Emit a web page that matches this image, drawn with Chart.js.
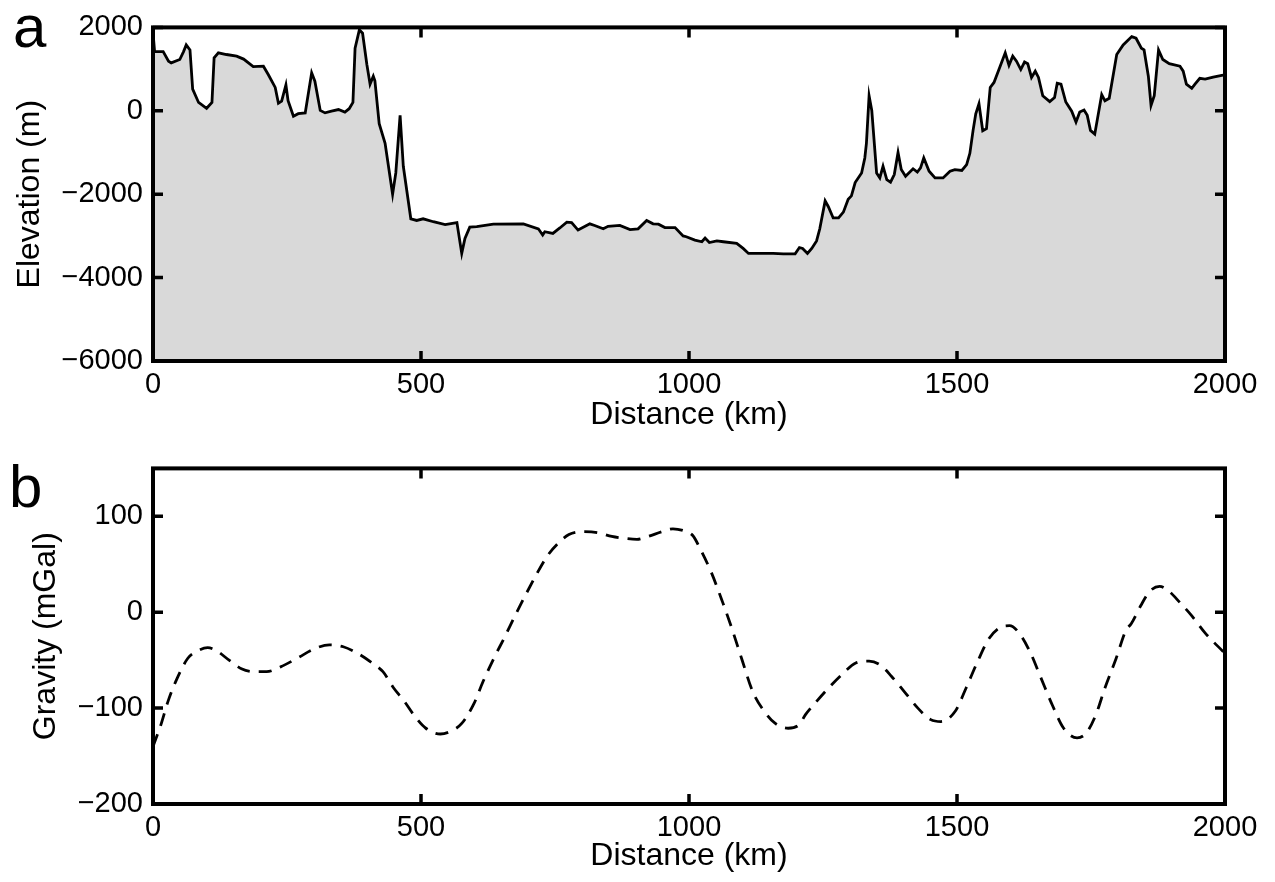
<!DOCTYPE html>
<html lang="en">
<head>
    <meta charset="UTF-8">
    <title>Elevation and gravity profile</title>
    <script src="https://cdn.jsdelivr.net/npm/chart.js"></script>
    <style>
        body { margin: 0; background: #fff; }
        #wrap { position: relative; width: 1275px; height: 882px; }
        canvas { position: absolute; left: 0; }
        .panel { position: absolute; font-family: "Liberation Sans", Arial, Helvetica, sans-serif; font-size: 60px; line-height: 1; color: #000; }
    </style>
</head>
<body>
<div id="wrap">
    <canvas id="elevChart" width="1275" height="441" style="top:0"></canvas>
    <canvas id="gravChart" width="1275" height="441" style="top:441px"></canvas>
    <div class="panel" style="left:13px; top:-3px">a</div>
    <div class="panel" style="left:9px; top:457px">b</div>
</div>

<script>
// profile a: topography along the line (km, m)
const elevDist = [0, 3, 19, 29, 34, 50, 57, 62, 69, 74, 85, 100, 110, 114, 122, 137, 156, 169, 187, 206,
    215, 228, 234, 240, 248, 252, 262, 271, 284, 296, 302, 312, 321, 333, 346, 358, 366, 373, 377, 385,
    391, 399, 405, 411, 414, 422, 433, 447, 453, 461, 467, 481, 492, 504, 523, 545, 567, 576, 582, 591,
    604, 635, 691, 719, 727, 731, 746, 759, 772, 781, 793, 815, 824, 840, 849, 871, 890, 905, 921, 933,
    943, 955, 974, 989, 995, 1011, 1024, 1030, 1038, 1052, 1064, 1089, 1101, 1111, 1126, 1157, 1176, 1198, 1206, 1212,
    1221, 1229, 1238, 1244, 1254, 1260, 1269, 1279, 1288, 1297, 1303, 1310, 1322, 1328, 1331, 1336, 1341, 1350, 1356, 1362,
    1369, 1376, 1383, 1390, 1396, 1404, 1418, 1426, 1432, 1438, 1448, 1459, 1474, 1487, 1496, 1509, 1518, 1524, 1530, 1535,
    1541, 1548, 1555, 1562, 1569, 1577, 1590, 1597, 1604, 1611, 1619, 1626, 1632, 1639, 1646, 1652, 1660, 1673, 1682, 1687,
    1694, 1703, 1714, 1722, 1729, 1737, 1743, 1749, 1757, 1770, 1776, 1784, 1798, 1810, 1826, 1834, 1844, 1849, 1857, 1862,
    1868, 1876, 1884, 1896, 1916, 1922, 1928, 1938, 1944, 1953, 1963, 1978, 1994, 2000];
const elevation = [1880, 1420, 1420, 1190, 1150, 1230, 1420, 1580, 1460, 520, 200, 60, 200, 1270, 1390, 1350, 1310, 1240, 1060, 1070,
    870, 560, 180, 230, 620, 240, -130, -70, -50, 910, 710, 10, -50, -10, 30, -30, 50, 200, 1500, 1940,
    1860, 1110, 640, 830, 720, -310, -780, -2000, -1490, -110, -1330, -2590, -2630, -2590, -2660, -2730, -2680, -3420, -3060, -2790,
    -2780, -2720, -2710, -2830, -2980, -2900, -2940, -2810, -2670, -2680, -2860, -2710, -2750, -2830, -2770, -2750, -2850, -2830, -2630, -2710,
    -2720, -2800, -2800, -3000, -3020, -3100, -3140, -3050, -3160, -3120, -3140, -3180, -3300, -3420, -3420, -3420, -3430, -3430, -3280, -3300,
    -3420, -3300, -3120, -2830, -2160, -2300, -2570, -2570, -2430, -2120, -2040, -1720, -1490, -1130, -780, 360, 10, -1490, -1610, -1330,
    -1650, -1710, -1530, -1000, -1410, -1570, -1390, -1470, -1370, -1130, -1450, -1610, -1610, -1450, -1410, -1430, -1290, -1020, -470, -70,
    170, -480, -430, 560, 680, 950, 1390, 1090, 1310, 1190, 990, 1170, 1130, 800, 950, 800, 360, 220, 320, 660,
    640, 210, -10, -270, -30, 20, -110, -470, -560, 390, 240, 300, 1350, 1580, 1780, 1740, 1500, 1460, 830, 130,
    360, 1460, 1230, 1130, 1070, 950, 640, 540, 640, 780, 760, 810, 850, 860];

// profile b: gravity anomaly (km, mGal)
const gravDist = [0, 15, 28, 45, 65, 81, 102, 118, 142, 165, 188, 212, 238, 269, 302, 329, 355, 382, 409, 429,
    449, 469, 489, 509, 536, 556, 576, 599, 616, 636, 656, 676, 696, 716, 736, 756, 776, 803, 830, 856,
    880, 903, 923, 950, 970, 990, 1007, 1021, 1042, 1063, 1080, 1098, 1119, 1140, 1161, 1185, 1206, 1217, 1238, 1262,
    1287, 1311, 1336, 1357, 1378, 1402, 1427, 1451, 1470, 1497, 1517, 1538, 1559, 1580, 1598, 1615, 1636, 1657, 1678, 1699,
    1724, 1741, 1759, 1776, 1797, 1815, 1825, 1843, 1860, 1878, 1895, 1916, 1937, 1962, 2000];
const gravity = [-140, -117, -93, -69, -48, -41, -37, -40, -50, -59, -62, -62, -57, -48, -38, -34, -36, -43, -53, -62,
    -79, -93, -109, -121, -127, -124, -116, -95, -72, -48, -26, -3, 19, 40, 59, 72, 81, 84, 83, 79,
    77, 76, 79, 84, 87, 85, 80, 66, 41, 10, -17, -48, -83, -103, -116, -121, -117, -107, -93, -78,
    -64, -53, -51, -55, -67, -83, -100, -112, -114, -103, -79, -52, -28, -16, -14, -21, -41, -69, -97, -121,
    -131, -126, -107, -79, -48, -19, -12, 7, 22, 27, 22, 10, -3, -21, -43];

const distTicks = [0, 500, 1000, 1500, 2000];
const elevTicks = [-6000, -4000, -2000, 0, 2000];
const gravTicks = [-200, -100, 0, 100];

Chart.defaults.font.family = '"Liberation Sans", Arial, Helvetica, sans-serif';
Chart.defaults.font.size = 29;
Chart.defaults.color = '#000';

// matlab style minus sign, no thousands separator
function fmt(v) {
    return v < 0 ? '\u2212' + Math.abs(v) : String(v);
}

// black box round the plot with ticks pointing inwards on all four sides
const boxTicks = {
    id: 'boxTicks',
    afterDatasetsDraw(chart) {
        const {ctx, chartArea: a, scales: {x, y}} = chart;
        ctx.save();
        ctx.strokeStyle = '#000';
        ctx.lineWidth = 3.5;
        ctx.beginPath();
        x.ticks.forEach(t => {
            const px = x.getPixelForValue(t.value);
            ctx.moveTo(px, a.bottom); ctx.lineTo(px, a.bottom - 10);
            ctx.moveTo(px, a.top); ctx.lineTo(px, a.top + 10);
        });
        y.ticks.forEach(t => {
            const py = y.getPixelForValue(t.value);
            ctx.moveTo(a.left, py); ctx.lineTo(a.left + 10, py);
            ctx.moveTo(a.right, py); ctx.lineTo(a.right - 10, py);
        });
        ctx.stroke();
        ctx.lineWidth = 4;
        ctx.lineJoin = 'miter';
        ctx.strokeRect(a.left, a.top, a.width, a.height);
        ctx.restore();
    }
};

function makeOptions(yMin, yMax, yTicks, yTitle, yTitlePad, topPad) {
    return {
        responsive: false,
        animation: false,
        layout: { padding: { left: 0, top: topPad, right: 50, bottom: 0 } },
        plugins: { legend: { display: false }, tooltip: { enabled: false } },
        elements: { point: { radius: 0 } },
        scales: {
            x: {
                type: 'linear',
                min: 0,
                max: 2000,
                afterBuildTicks: axis => { axis.ticks = distTicks.map(v => ({ value: v })); },
                afterFit: axis => { axis.height = 441 - 361 - topPad + 22; },
                grid: { display: false, drawTicks: false },
                border: { display: false },
                ticks: { padding: 7, maxRotation: 0, callback: v => fmt(v) },
                title: { display: true, text: 'Distance (km)', font: { size: 32 }, padding: { top: 0, bottom: 7 } }
            },
            y: {
                min: yMin,
                max: yMax,
                afterBuildTicks: axis => { axis.ticks = yTicks.map(v => ({ value: v })); },
                afterFit: axis => { axis.width = 153; },
                grid: { display: false, drawTicks: false },
                border: { display: false },
                ticks: { padding: 10, callback: v => fmt(v) },
                title: { display: true, text: yTitle, font: { size: 32 }, padding: { top: yTitlePad, bottom: 0 } }
            }
        }
    };
}

new Chart(document.getElementById('elevChart'), {
    type: 'line',
    data: {
        datasets: [{
            data: elevDist.map((d, i) => ({ x: d, y: elevation[i] })),
            borderColor: '#000',
            borderWidth: 2.8,
            backgroundColor: '#d9d9d9',
            fill: 'start',
            tension: 0
        }]
    },
    options: makeOptions(-6000, 2000, elevTicks, 'Elevation (m)', 11, 22),
    plugins: [boxTicks]
});

new Chart(document.getElementById('gravChart'), {
    type: 'line',
    data: {
        datasets: [{
            data: gravDist.map((d, i) => ({ x: d, y: gravity[i] })),
            borderColor: '#000',
            borderWidth: 2.8,
            borderDash: [13, 9],
            fill: false,
            cubicInterpolationMode: 'monotone'
        }]
    },
    options: makeOptions(-200, 150, gravTicks, 'Gravity (mGal)', 27, 24),
    plugins: [boxTicks]
});
</script>
</body>
</html>
